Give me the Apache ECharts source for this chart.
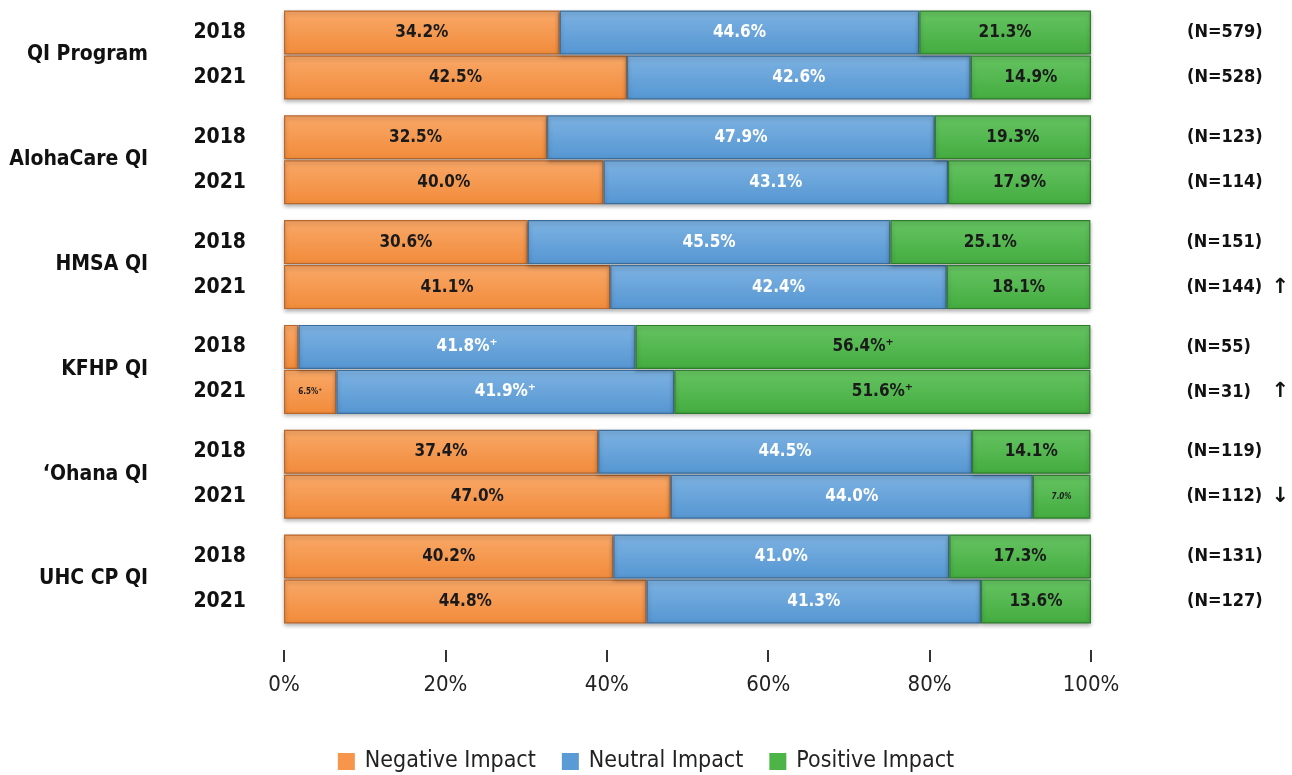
<!DOCTYPE html>
<html>
<head>
<meta charset="utf-8">
<script src="https://cdn.jsdelivr.net/npm/echarts@6/dist/echarts.min.js"></script>
<style>
html, body { margin: 0; padding: 0; background: #fff; }
#main { width: 1292px; height: 775px; }
</style>
</head>
<body>
<div id="main"></div>
<script>
var groups = ['QI Program', 'AlohaCare QI', 'HMSA QI', 'KFHP QI', '\u2018Ohana QI', 'UHC CP QI'];
var years = ['2018', '2021'];
// one entry per bar, groups in order, 2018 then 2021
var negative = [34.2, 42.5, 32.5, 40.0, 30.6, 41.1, 1.8, 6.5, 37.4, 47.0, 40.2, 44.8];
var neutral = [44.6, 42.6, 47.9, 43.1, 45.5, 42.4, 41.8, 41.9, 44.5, 44.0, 41.0, 41.3];
var positive = [21.3, 14.9, 19.3, 17.9, 25.1, 18.1, 56.4, 51.6, 14.1, 7.0, 17.3, 13.6];
var sampleN = [579, 528, 123, 114, 151, 144, 55, 31, 119, 112, 131, 127];
var trend = ['', '', '', '', '', '\u2191', '', '\u2191', '', '\u2193', '', ''];
var plusRows = [6, 7];

var FONT = "'Liberation Sans Narrow', 'DejaVu Sans Condensed', sans-serif";
var myChart = echarts.init(document.getElementById('main'));

function grad(top, bottom) {
    return new echarts.graphic.LinearGradient(0, 0, 0, 1, [
        { offset: 0, color: top },
        { offset: 1, color: bottom }
    ]);
}

var seriesDefs = [
    { name: 'Negative Impact', values: negative, color: '#F7964A', fill: grad('#F9A868', '#F18B3A'), border: '#B9672C', text: '#1a1a1a' },
    { name: 'Neutral Impact', values: neutral, color: '#5B9BD5', fill: grad('#7DB2E2', '#5596D2'), border: '#3C6E9C', text: '#ffffff' },
    { name: 'Positive Impact', values: positive, color: '#4DB548', fill: grad('#66C462', '#43AC3F'), border: '#2F7D2C', text: '#1a1a1a' }
];

var grids = [], xAxes = [], yAxes = [], series = [];
var top0 = 10, step = 104.8, gh = 90;

groups.forEach(function (g, i) {
    grids.push({ left: 284, right: 201, top: top0 + step * i, height: gh });
    var last = i === groups.length - 1;
    xAxes.push({
        gridIndex: i, type: 'value', min: 0, max: 100, interval: 20,
        show: last,
        offset: 26,
        axisLine: { show: false },
        axisTick: { show: true, length: 12, lineStyle: { color: '#333', width: 2 } },
        splitLine: { show: false },
        axisLabel: { margin: 24, fontFamily: FONT, fontSize: 22, color: '#222', formatter: '{value}%' }
    });
    yAxes.push({
        gridIndex: i, type: 'category', inverse: true, data: years,
        axisLine: { show: false }, axisTick: { show: false },
        axisLabel: { margin: 38, fontFamily: FONT, fontSize: 21, fontWeight: 'bold', color: '#111' },
        name: g, nameLocation: 'middle', nameRotate: 0, nameGap: 136,
        nameTextStyle: { align: 'right', fontFamily: FONT, fontSize: 21, fontWeight: 'bold', color: '#111', padding: [0, 0, 16, 0] }
    });
    yAxes.push({
        gridIndex: i, type: 'category', inverse: true, position: 'right',
        data: [0, 1].map(function (k) { return String(i * 2 + k); }),
        axisLine: { show: false }, axisTick: { show: false },
        axisLabel: {
            margin: 96, align: 'left',
            formatter: function (v) {
                var r = +v;
                return '{n|(N=' + sampleN[r] + ')}' + (trend[r] ? '{a|' + trend[r] + '}' : '');
            },
            rich: {
                n: { width: 85, fontFamily: FONT, fontSize: 18, fontWeight: 'bold', color: '#111' },
                a: { fontFamily: 'DejaVu Sans', fontSize: 21, fontWeight: 'bold', color: '#111' }
            }
        }
    });
    seriesDefs.forEach(function (s) {
        series.push({
            name: s.name, type: 'bar', stack: 'g' + i,
            xAxisIndex: i, yAxisIndex: i * 2,
            barWidth: 44,
            itemStyle: {
                color: s.fill, borderColor: s.border, borderWidth: 1.2,
                shadowBlur: 4, shadowColor: 'rgba(0,0,0,0.3)', shadowOffsetY: 2
            },
            data: [0, 1].map(function (k) {
                var r = i * 2 + k;
                var total = negative[r] + neutral[r] + positive[r];
                var v = s.values[r];
                var small = v < 10;
                return {
                    value: v / total * 100,
                    label: {
                        show: v >= 5,
                        fontSize: small ? 8 : 17,
                        fontStyle: small && s.name === 'Positive Impact' ? 'italic' : 'normal'
                    }
                };
            }),
            label: {
                show: true, position: 'inside', fontFamily: FONT, fontWeight: 'bold', color: s.text,
                formatter: function (p) {
                    var r = i * 2 + p.dataIndex;
                    return s.values[r].toFixed(1) + '%' + (plusRows.indexOf(r) >= 0 ? '\u207A' : '');
                }
            }
        });
    });
});

var option = {
    animation: false,
    grid: grids,
    xAxis: xAxes,
    yAxis: yAxes,
    legend: {
        bottom: -3, left: 'center',
        data: seriesDefs.map(function (s) { return { name: s.name, itemStyle: { color: s.color, borderWidth: 0, shadowBlur: 0 } }; }),
        icon: 'rect', itemWidth: 17, itemHeight: 17, itemGap: 26,
        textStyle: { fontFamily: FONT, fontSize: 23, color: '#222', padding: [0, 0, 0, 5] }
    },
    series: series
};

myChart.setOption(option);
</script>
</body>
</html>
